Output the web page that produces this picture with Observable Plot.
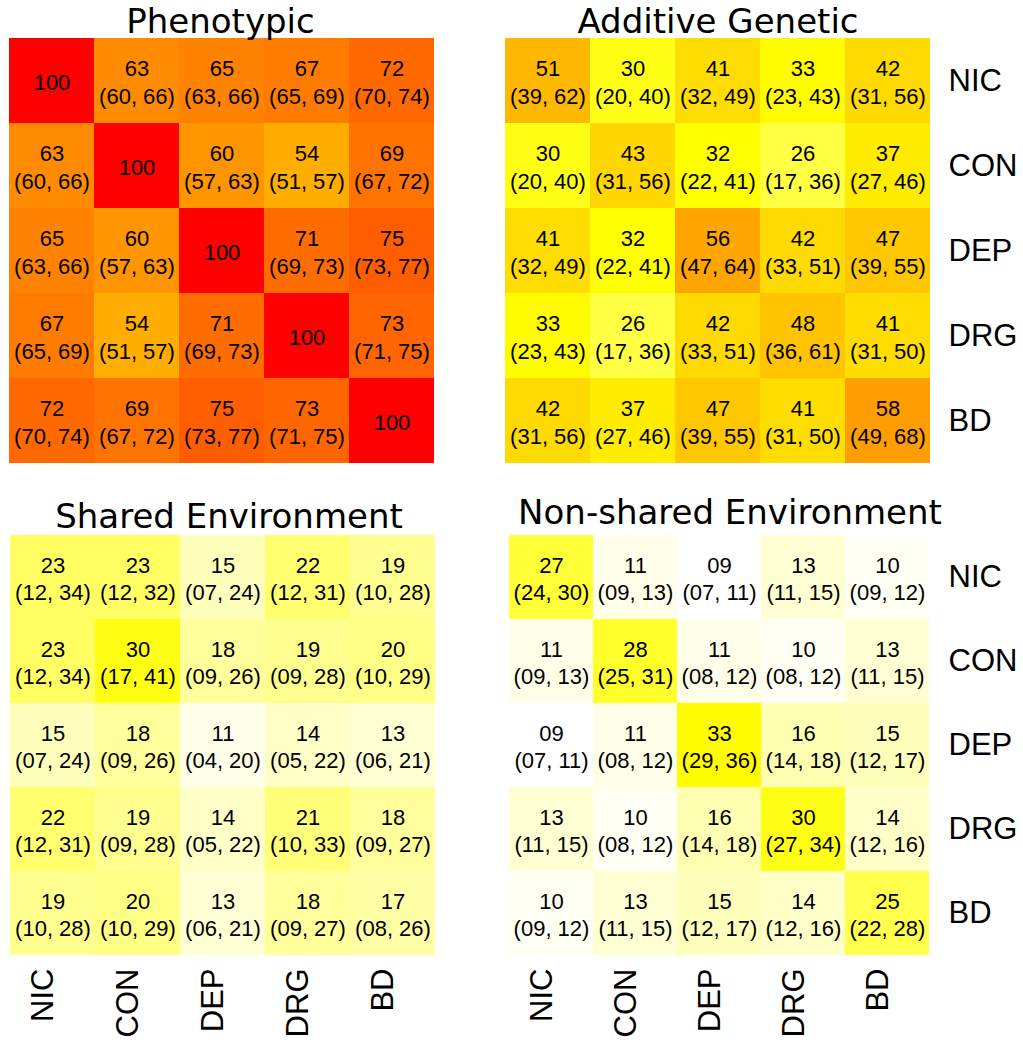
<!DOCTYPE html>
<html><head><meta charset="utf-8">
<script src="https://cdn.jsdelivr.net/npm/d3@7"></script>
<script src="https://cdn.jsdelivr.net/npm/@observablehq/plot@0.6"></script>
<style>
body{margin:0;background:#fff;}
#wrap{position:relative;width:1023px;height:1050px;overflow:hidden;background:#fff;}
.panel{position:absolute;}
</style></head><body><div id="wrap"></div>
<script>
const traits = ["NIC", "CON", "DEP", "DRG", "BD"];

// Phenotypic correlations (diagonal = 100, no interval)
const phenoEst = [
  [100, 63, 65, 67, 72],
  [63, 100, 60, 54, 69],
  [65, 60, 100, 71, 75],
  [67, 54, 71, 100, 73],
  [72, 69, 75, 73, 100]];
const phenoLo = [
  [null, 60, 63, 65, 70],
  [60, null, 57, 51, 67],
  [63, 57, null, 69, 73],
  [65, 51, 69, null, 71],
  [70, 67, 73, 71, null]];
const phenoHi = [
  [null, 66, 66, 69, 74],
  [66, null, 63, 57, 72],
  [66, 63, null, 73, 77],
  [69, 57, 73, null, 75],
  [74, 72, 77, 75, null]];

// Additive genetic
const addEst = [
  [51, 30, 41, 33, 42],
  [30, 43, 32, 26, 37],
  [41, 32, 56, 42, 47],
  [33, 26, 42, 48, 41],
  [42, 37, 47, 41, 58]];
const addLo = [
  [39, 20, 32, 23, 31],
  [20, 31, 22, 17, 27],
  [32, 22, 47, 33, 39],
  [23, 17, 33, 36, 31],
  [31, 27, 39, 31, 49]];
const addHi = [
  [62, 40, 49, 43, 56],
  [40, 56, 41, 36, 46],
  [49, 41, 64, 51, 55],
  [43, 36, 51, 61, 50],
  [56, 46, 55, 50, 68]];

// Shared environment
const sharedEst = [
  [23, 23, 15, 22, 19],
  [23, 30, 18, 19, 20],
  [15, 18, 11, 14, 13],
  [22, 19, 14, 21, 18],
  [19, 20, 13, 18, 17]];
const sharedLo = [
  [12, 12, 7, 12, 10],
  [12, 17, 9, 9, 10],
  [7, 9, 4, 5, 6],
  [12, 9, 5, 10, 9],
  [10, 10, 6, 9, 8]];
const sharedHi = [
  [34, 32, 24, 31, 28],
  [34, 41, 26, 28, 29],
  [24, 26, 20, 22, 21],
  [31, 28, 22, 33, 27],
  [28, 29, 21, 27, 26]];

// Non-shared environment
const nonEst = [
  [27, 11, 9, 13, 10],
  [11, 28, 11, 10, 13],
  [9, 11, 33, 16, 15],
  [13, 10, 16, 30, 14],
  [10, 13, 15, 14, 25]];
const nonLo = [
  [24, 9, 7, 11, 9],
  [9, 25, 8, 8, 11],
  [7, 8, 29, 14, 12],
  [11, 8, 14, 27, 12],
  [9, 11, 12, 12, 22]];
const nonHi = [
  [30, 13, 11, 15, 12],
  [13, 31, 12, 12, 15],
  [11, 12, 36, 18, 17],
  [15, 12, 18, 34, 16],
  [12, 15, 17, 16, 28]];

const colorDomain = [9, 32, 100];
const colorRange = ["#ffffff", "#ffff00", "#ff0000"];

const fmt = d3.format("02d");

function panel(o) {
  const cells = [];
  traits.forEach((r, i) => traits.forEach((c, j) => cells.push({
    row: r, col: c, v: o.est[i][j], lo: o.lo[i][j], hi: o.hi[i][j]
  })));
  const label = d => d.lo == null ? String(d.v) : `${fmt(d.v)}\n(${fmt(d.lo)}, ${fmt(d.hi)})`;
  const marks = [
    Plot.cell(cells, {x: "col", y: "row", fill: "v", inset: 0}),
    Plot.text(cells, {x: "col", y: "row", text: label, fontSize: 22, lineHeight: 1.25, fill: "black"}),
    Plot.text([o.title], {frameAnchor: "top", lineAnchor: "bottom", dy: o.titleDy, dx: o.titleDx,
      fontSize: 34, fontFamily: "DejaVu Sans", fill: "black"})
  ];
  if (o.rowLabels) marks.push(Plot.text(traits, {y: d => d, frameAnchor: "right", textAnchor: "start",
    dx: 18, fontSize: 31, fill: "black"}));
  if (o.colLabels) marks.push(Plot.text(traits, {x: d => d, frameAnchor: "bottom", rotate: -90,
    textAnchor: "end", dy: 12, fontSize: 31, fill: "black"}));
  const chart = Plot.plot({
    width: o.width, height: o.height,
    marginLeft: o.ml, marginRight: o.mr, marginTop: o.mt, marginBottom: o.mb,
    style: {fontFamily: "Liberation Sans, Arial, sans-serif", background: "transparent", overflow: "visible"},
    x: {type: "band", domain: traits, padding: 0, axis: null},
    y: {type: "band", domain: traits, padding: 0, axis: null},
    color: {type: "linear", domain: colorDomain, range: colorRange, interpolate: "rgb"},
    marks
  });
  const div = document.createElement("div");
  div.className = "panel";
  div.style.left = o.left + "px";
  div.style.top = o.top + "px";
  div.appendChild(chart);
  document.getElementById("wrap").appendChild(div);
}

panel({title: "Phenotypic", est: phenoEst, lo: phenoLo, hi: phenoHi,
  left: 0, top: 0, width: 460, height: 470, ml: 8, mr: 26, mt: 38, mb: 7,
  titleDx: -1, titleDy: -6});
panel({title: "Additive Genetic", est: addEst, lo: addLo, hi: addHi,
  left: 460, top: 0, width: 563, height: 470, ml: 45, mr: 93, mt: 38, mb: 7,
  titleDx: 0, titleDy: -6, rowLabels: true});
panel({title: "Shared Environment", est: sharedEst, lo: sharedLo, hi: sharedHi,
  left: 0, top: 480, width: 460, height: 570, ml: 10, mr: 25, mt: 53, mb: 94,
  titleDx: 6, titleDy: -6, colLabels: true});
panel({title: "Non-shared Environment", est: nonEst, lo: nonLo, hi: nonHi,
  left: 460, top: 480, width: 563, height: 570, ml: 47, mr: 93, mt: 53, mb: 94,
  titleDx: 11, titleDy: -10, rowLabels: true, colLabels: true});
</script></body></html>
